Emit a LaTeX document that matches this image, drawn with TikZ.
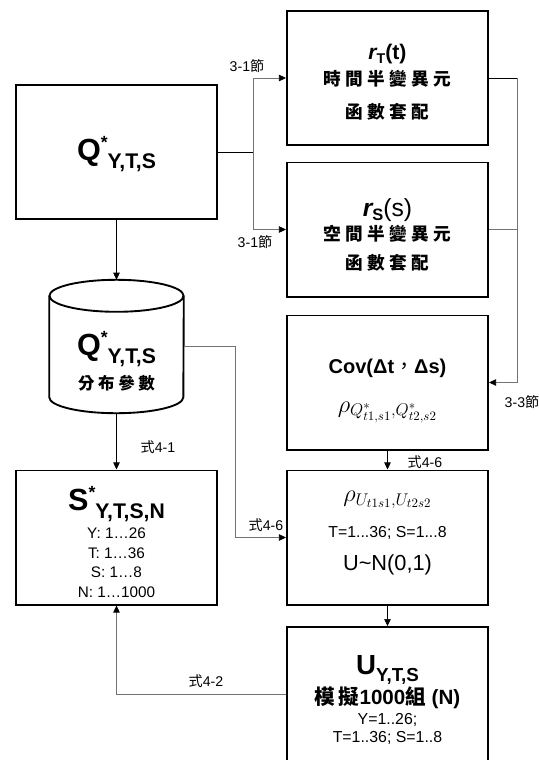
\documentclass[tikz,border=0pt]{standalone}
\usepackage{fontspec}
\setmainfont{Liberation Sans}
\newfontfamily\cjk{Noto Sans CJK TC}
\newfontfamily\cjks[LetterSpace=25]{Noto Sans CJK TC}
\usetikzlibrary{arrows.meta}

\begin{document}
\begin{tikzpicture}[x=0.85pt, y=-0.85pt]
    \tikzset{
      box/.style={draw, line width=1.6pt, minimum width=171pt, minimum height=114pt, inner sep=0pt},
      txt/.style={align=center, inner sep=0pt},
      link/.style={draw=black, line width=0.6pt},
      glink/.style={draw=black!55, line width=0.7pt},
      tip/.style={-{Triangle[length=6pt, width=5.5pt, color=black]}},
      tag/.style={font=\fontsize{12}{12}\selectfont, inner sep=1pt}
    }
    \useasboundingbox (0,0) rectangle (539,760);

    % left column
    \node[box] (Q) at (116.5,152) {};
    \node[txt] (Qtext) at (116.5,154) {\fontsize{26}{28}\selectfont\bfseries Q\raisebox{10pt}{\fontsize{15}{15}\selectfont *}\raisebox{-7pt}{\fontsize{18}{18}\selectfont Y,T,S}};

    \node[minimum width=114pt, minimum height=113pt, inner sep=0pt] (cyl) at (116.5,346.5) {};
    \draw[line width=1.6pt] ([yshift=-13.6pt]cyl.north west) -- ([yshift=13.6pt]cyl.south west)
      arc[start angle=180, end angle=360, x radius=57pt, y radius=13.6pt] -- ([yshift=-13.6pt]cyl.north east);
    \draw[line width=1.6pt] ([yshift=-13.6pt]cyl.north) ellipse[x radius=57pt, y radius=13.6pt];
    \node[txt] (cyltext) at (116.5,361) {{\fontsize{26}{28}\selectfont\bfseries Q\raisebox{10pt}{\fontsize{15}{15}\selectfont *}\raisebox{-7pt}{\fontsize{18}{18}\selectfont Y,T,S}}\\[6pt]
      {\cjk\bfseries\addfontfeature{LetterSpace=22}\fontsize{14}{16}\selectfont 分布參數}};

    \node[box] (S) at (116.5,537.5) {};
    \node[txt, font=\fontsize{13}{16.5}\selectfont] (Stext) at (116.5,542) {{\fontsize{26}{28}\selectfont\bfseries S\raisebox{10pt}{\fontsize{15}{15}\selectfont *}\raisebox{-7pt}{\fontsize{18}{18}\selectfont Y,T,S,N}}\\[4pt]
      Y: 1…26\\ T: 1…36\\ S: 1…8\\ N: 1…1000};

    % right column
    \node[box] (rT) at (387.5,78) {};
    \node[txt] (rTtext) at (387.5,82) {{\fontsize{18}{20}\selectfont\bfseries\itshape r\raisebox{-4pt}{\upshape\fontsize{12}{12}\selectfont T}\upshape(t)}\\[4pt]
      {\cjks\bfseries\fontsize{15}{17}\selectfont 時間半變異元}\\[13pt]
      {\cjks\bfseries\fontsize{15}{17}\selectfont 函數套配}};
    \node[box] (rS) at (387.5,229.5) {};
    \node[txt] (rStext) at (387.5,235) {{\fontsize{21}{22}\selectfont{\bfseries\itshape r}\raisebox{-4pt}{\bfseries\fontsize{14}{14}\selectfont S}(s)}\\[2pt]
      {\cjks\bfseries\fontsize{15}{17}\selectfont 空間半變異元}\\[10pt]
      {\cjks\bfseries\fontsize{15}{17}\selectfont 函數套配}};
    \node[box] (Cov) at (387.5,382.5) {};
    \node[txt] (Covtext) at (387.5,391) {{\fontsize{17}{19}\selectfont\bfseries Cov(Δt{\cjk\mdseries ，}Δs)}\\[19pt]
      {\fontsize{22}{22}\selectfont $\rho_{Q^*_{t1,s1},Q^*_{t2,s2}}$}};
    \node[box] (rhoU) at (387.5,537.5) {};
    \node[txt] (rhoUtext) at (387.5,533) {{\fontsize{22}{22}\selectfont $\rho_{U_{t1s1},U_{t2s2}}$}\\[14pt]
      {\fontsize{13.5}{15}\selectfont T=1...36; S=1...8}\\[12pt]
      {\fontsize{18.5}{20}\selectfont U\textasciitilde N(0,1)}};
    \node[box, minimum height=147pt] (U) at (387.5,713.5) {};
    \node[txt, font=\fontsize{13.5}{16}\selectfont] (Utext) at (387.5,700) {{\fontsize{23.5}{25}\selectfont\bfseries U\raisebox{-6pt}{\fontsize{16}{16}\selectfont Y,T,S}}\\[1pt]
      {\fontsize{17.5}{19}\selectfont\bfseries{\cjk\addfontfeature{LetterSpace=18}模擬}1000{\cjk 組} (N)}\\[1pt]
      Y=1..26;\\ T=1..36; S=1..8};

    % connectors
    \draw[link, tip] (Q) -- (cyl);
    \draw[link, tip] (cyl) -- (S);
    \draw[link] (Q.east) -- ++(35,0) coordinate (fork);
    \draw[glink, tip] (fork) |- (rT.west);
    \draw[glink, tip] (fork) |- (rS.west);
    \draw[link] (rT.east) -- ++(28,0) coordinate (bus);
    \draw[glink, tip] (bus) |- (Cov.east);
    \draw[glink] (rS.east) -- (rS.east -| bus);
    \draw[glink, tip] (cyl.east) -- ++(52,0) |- (rhoU.west);
    \draw[link, tip] (Cov) -- (rhoU);
    \draw[link, tip] (rhoU) -- (U);
    \draw[glink, tip] ([yshift=-58pt]U.north west) -| (S.south);

    % labels
    \node[tag] (l1) at (247,66) {3-1{\cjk 節}};
    \node[tag] (l2) at (255,242) {3-1{\cjk 節}};
    \node[tag] (l3) at (522,402) {3-3{\cjk 節}};
    \node[tag] (l4) at (158,447) {{\cjk 式}4-1};
    \node[tag] (l5) at (266,525) {{\cjk 式}4-6};
    \node[tag] (l6) at (425,462) {{\cjk 式}4-6};
    \node[tag] (l7) at (206,681) {{\cjk 式}4-2};
\end{tikzpicture}
\end{document}
